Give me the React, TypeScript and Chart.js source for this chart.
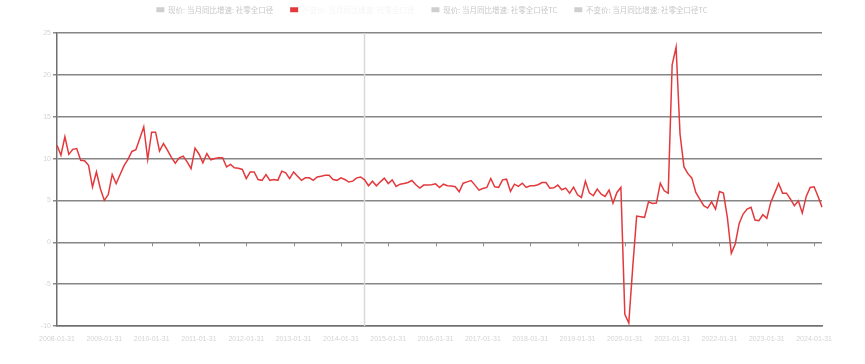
import React, { useEffect, useRef } from 'react';
import { Chart, registerables } from 'chart.js';

Chart.register(...registerables);

// ---- categories: month-end dates 2008-01 .. 2024-03 ----
const FIRST_YEAR = 2008;
const LAST_YEAR = 2024;
const LAST_MONTH = 3;
function monthEnd(y: number, m: number): string {
  const d = new Date(Date.UTC(y, m, 0)).getUTCDate();
  return `${y}-${String(m).padStart(2, '0')}-${String(d).padStart(2, '0')}`;
}
const categories: string[] = [];
for (let y = FIRST_YEAR; y <= LAST_YEAR; y++) {
  for (let m = 1; m <= 12; m++) {
    if (y === LAST_YEAR && m > LAST_MONTH) break;
    categories.push(monthEnd(y, m));
  }
}

// ---- legend ----
const seriesNames = [
  '现价: 当月同比增速: 社零全口径',
  '不变价: 当月同比增速: 社零全口径',
  '现价: 当月同比增速: 社零全口径TC',
  '不变价: 当月同比增速: 社零全口径TC',
];
const seriesColors = ['#cfcfcf', '#e4393c', '#cfcfcf', '#cfcfcf'];
const legendTextColors = ['#c8c8c8', '#f5f5f5', '#c8c8c8', '#c8c8c8'];

// ---- values (%), 2008-01 .. 2024-03 ----
const realGrowth: number[] = [
  // 2008
  11.6, 10.4, 12.6, 10.5, 11.1, 11.2, 9.8, 9.75, 9.2, 6.6, 8.4, 6.4,
  // 2009
  5.0, 5.7, 8.1, 7.0, 8.1, 9.15, 9.9, 10.85, 11.05, 12.4, 13.8, 9.9,
  // 2010
  13.15, 13.15, 10.9, 11.8, 11.0, 10.15, 9.45, 10.1, 10.3, 9.6, 8.8, 11.25,
  // 2011
  10.55, 9.5, 10.6, 9.85, 10.0, 10.1, 10.1, 9.0, 9.3, 8.9, 8.85, 8.7,
  // 2012
  7.6, 8.4, 8.4, 7.5, 7.4, 8.1, 7.4, 7.5, 7.4, 8.5, 8.3, 7.6,
  // 2013
  8.4, 7.9, 7.4, 7.7, 7.7, 7.4, 7.8, 7.9, 8.0, 8.0, 7.5, 7.4,
  // 2014
  7.7, 7.5, 7.2, 7.3, 7.7, 7.8, 7.46, 6.75, 7.3, 6.75, 7.22, 7.66,
  // 2015
  7.02, 7.46, 6.67, 6.94, 7.02, 7.14, 7.38, 6.87, 6.47, 6.83, 6.83, 6.87,
  // 2016
  6.98, 6.55, 6.94, 6.75, 6.71, 6.63, 6.03, 7.06, 7.22, 7.38, 6.83, 6.23,
  // 2017
  6.43, 6.55, 7.62, 6.63, 6.55, 7.46, 7.54, 6.07, 6.94, 6.67, 7.06, 6.55,
  // 2018
  6.75, 6.75, 6.87, 7.14, 7.14, 6.47, 6.51, 6.83, 6.27, 6.47, 5.87, 6.59,
  // 2019
  5.67, 5.36, 7.3, 5.9, 5.56, 6.35, 5.75, 5.48, 6.23, 4.68, 5.95, 6.55,
  // 2020
  -8.6, -9.64, -3.0, 3.13, 3.06, 2.98, 4.84, 4.64, 4.68, 7.06, 6.15, 5.87,
  // 2021
  21.2, 23.3, 12.9, 9.0, 8.2, 7.66, 5.95, 5.16, 4.37, 4.09, 4.84, 3.97,
  // 2022
  6.07, 5.87, 2.98, -1.31, -0.2, 2.26, 3.37, 3.97, 4.17, 2.66, 2.58, 3.29,
  // 2023
  2.86, 4.76, 5.87, 7.02, 5.87, 5.87, 5.16, 4.37, 4.96, 3.49, 5.48, 6.55,
  // 2024
  6.63, 5.48, 4.2,
];

const yTicks = [-10, -5, 0, 5, 10, 15, 20, 25];
const markerDate = '2014-07-31';

const TICK_FONT = "'Liberation Sans', Arial, sans-serif";
const LEGEND_FONT = "'Noto Sans CJK SC', 'Noto Sans', sans-serif";

export default function App() {
  const ref = useRef<HTMLCanvasElement | null>(null);

  useEffect(() => {
    const canvas = ref.current;
    if (!canvas) return;

    const overlay = {
      id: 'overlay',
      beforeInit(chart: any) {
        const lg = chart.legend;
        if (lg) {
          const orig = lg.fit;
          lg.fit = function () {
            orig.call(this);
            this.height = 33;
          };
        }
      },
      afterLayout(chart: any) {
        const lg = chart.legend;
        if (lg) {
          lg.top = -11;
          lg.bottom = lg.top + lg.height;
          lg.left += 21;
          lg.right += 21;
        }
      },
      beforeDatasetsDraw(chart: any) {
        const { ctx, chartArea, scales } = chart;
        const x = scales.x;
        const y = scales.y;
        ctx.save();
        // vertical marker
        const mi = categories.indexOf(markerDate);
        if (mi >= 0) {
          const px = Math.round(x.getPixelForValue(mi)) - 0.5;
          ctx.strokeStyle = '#d9d9d9';
          ctx.lineWidth = 1.5;
          ctx.beginPath();
          ctx.moveTo(px, chartArea.top);
          ctx.lineTo(px, chartArea.bottom);
          ctx.stroke();
        }
        // tick marks on the zero line
        const y0 = y.getPixelForValue(0);
        ctx.strokeStyle = '#8a8a8a';
        ctx.lineWidth = 1;
        categories.forEach((c, i) => {
          if (i === 0 || !c.endsWith('-01-31')) return;
          const px = Math.round(x.getPixelForValue(i)) + 0.5;
          ctx.beginPath();
          ctx.moveTo(px, y0);
          ctx.lineTo(px, y0 + 4);
          ctx.stroke();
        });
        ctx.restore();
      },
    };

    const chart = new Chart(canvas, {
      type: 'line',
      data: {
        labels: categories,
        datasets: seriesNames.map((name, i) => ({
          label: name,
          data: i === 1 ? realGrowth : [],
          borderColor: seriesColors[i],
          backgroundColor: seriesColors[i],
          borderWidth: 1.5,
          pointRadius: 0,
          tension: 0,
          fill: false,
        })),
      },
      options: {
        responsive: false,
        animation: false,
        devicePixelRatio: 1,
        layout: { padding: { left: 0, right: 43, top: 0, bottom: 0 } },
        plugins: {
          tooltip: { enabled: false },
          legend: {
            display: true,
            position: 'top',
            align: 'center',
            labels: {
              boxWidth: 8,
              boxHeight: 5,
              padding: 17,
              font: { family: LEGEND_FONT, size: 7.5 },
              generateLabels: () =>
                seriesNames.map((name, i) => ({
                  text: name,
                  fillStyle: seriesColors[i],
                  strokeStyle: seriesColors[i],
                  lineWidth: 0,
                  hidden: false,
                  fontColor: legendTextColors[i],
                  datasetIndex: i,
                })),
            },
          },
        },
        scales: {
          x: {
            type: 'category',
            offset: false,
            grid: { display: false, drawTicks: false },
            border: { display: true, color: '#6f6f6f', width: 1.5 },
            ticks: {
              autoSkip: false,
              maxRotation: 0,
              minRotation: 0,
              padding: 9,
              color: '#d4d4d4',
              font: { family: TICK_FONT, size: 7 },
              callback: (_v: any, i: number) =>
                categories[i].endsWith('-01-31') ? categories[i] : '',
            },
            afterFit: (s: any) => {
              s.height = 38;
            },
          },
          y: {
            min: yTicks[0],
            max: yTicks[yTicks.length - 1],
            afterBuildTicks: (s: any) => {
              s.ticks = yTicks.map((v) => ({ value: v }));
            },
            grid: {
              color: '#868686',
              lineWidth: 1.5,
              drawTicks: true,
              tickLength: 4,
              tickColor: '#8a8a8a',
            },
            border: { display: true, color: '#6f6f6f', width: 1.5 },
            ticks: {
              padding: 2,
              color: '#d4d4d4',
              font: { family: TICK_FONT, size: 7 },
            },
            afterFit: (s: any) => {
              s.width = 57;
            },
          },
        },
      },
      plugins: [overlay],
    } as any);

    return () => chart.destroy();
  }, []);

  return (
    <div style={{ position: 'fixed', left: 0, top: 0, width: 865, height: 364, background: '#fff' }}>
      <canvas ref={ref} width={865} height={364} style={{ width: 865, height: 364, display: 'block' }} />
    </div>
  );
}
